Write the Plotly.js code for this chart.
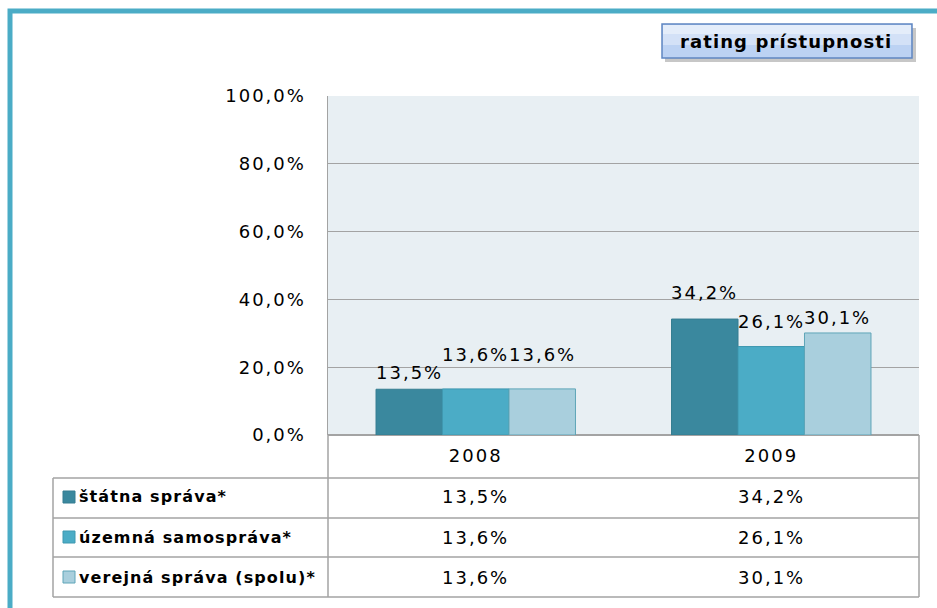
<!DOCTYPE html>
<html><head><meta charset="utf-8">
<script src="https://cdn.plot.ly/plotly-3.0.1.min.js"></script>
<style>
html,body{margin:0;padding:0;background:#fff}
svg text{letter-spacing:2px}
svg text[style*="font-weight: bold"], svg text[style*="font-weight: 700"]{letter-spacing:1.1px}
</style>
</head><body><div id="chart" style="width:937px;height:608px"></div>
<script>
// ---- data ----
const years = ['2008', '2009'];
const seriesNames = ['štátna správa*', 'územná samospráva*', 'verejná správa (spolu)*'];
const statnaSprava = [13.5, 34.2];
const uzemnaSamosprava = [13.6, 26.1];
const verejnaSprava = [13.6, 30.1];
const yTickValues = [0, 20, 40, 60, 80, 100];
const chartTitle = 'rating prístupnosti';

// ---- styling ----
const seriesValues = [statnaSprava, uzemnaSamosprava, verejnaSprava];
const colors = ['#3a889e', '#4bacc6', '#a9cfdd'];
const outlines = ['#357d91', '#3f98b0', '#5fa5b8'];
const labelShift = [[17, 34, 34], [27, 25, 15]];
const FONT = 'DejaVu Sans, sans-serif';
const fmt = v => v.toFixed(1).replace('.', ',') + '%';
const bargap = 0.325;
const xPos = years.map((_, j) => j);
const GRID = '#a3a3a3';

// pixel -> paper helpers (plot area 328..919 x 96..435)
const L = 328, R = 919, T = 96, B = 435, W = R - L, H = B - T;
const px = p => (p - L) / W;
const py = p => (B - p) / H;

const traces = seriesNames.map((n, i) => ({
  type: 'bar', name: n, x: xPos, y: seriesValues[i],
  marker: {color: colors[i], line: {color: outlines[i], width: 1}},
  hoverinfo: 'skip', showlegend: false
}));

const annotations = [];
const shapes = [];
const bw = (1 - bargap) / seriesNames.length;

// data labels above bars
seriesValues.forEach((vals, i) => {
  vals.forEach((v, j) => {
    annotations.push({
      x: xPos[j] + (i - 1) * bw, y: v, xref: 'x', yref: 'y',
      text: fmt(v), showarrow: false, xanchor: 'center', yanchor: 'middle',
      yshift: labelShift[j][i], font: {family: FONT, size: 18, color: '#000'}
    });
  });
});

// data table
const rowLines = [478, 518, 557, 597];
const rowCenters = [497, 537, 577];
rowLines.forEach(y => shapes.push({type: 'line', xref: 'paper', yref: 'paper',
  x0: px(53), x1: px(R), y0: py(y), y1: py(y), line: {color: GRID, width: 1.5}}));
[[53, 478], [L, B], [R, B]].forEach(([x, y0]) => shapes.push({type: 'line', xref: 'paper', yref: 'paper',
  x0: px(x), x1: px(x), y0: py(y0), y1: py(597), line: {color: GRID, width: 1.5}}));

seriesNames.forEach((n, i) => {
  const c = rowCenters[i];
  shapes.push({type: 'rect', xref: 'paper', yref: 'paper', x0: px(63), x1: px(75),
    y0: py(c + 6), y1: py(c - 6), fillcolor: colors[i], line: {color: outlines[i], width: 1}});
  annotations.push({x: px(77), y: py(c), xref: 'paper', yref: 'paper', text: n, showarrow: false,
    xanchor: 'left', yanchor: 'middle', font: {family: FONT, size: 16, color: '#000', weight: 'bold'}});
  seriesValues[i].forEach((v, j) => annotations.push({
    x: xPos[j], y: py(c), xref: 'x', yref: 'paper', text: fmt(v), showarrow: false,
    xanchor: 'center', yanchor: 'middle', font: {family: FONT, size: 18, color: '#000'}
  }));
});

// teal outer frame
shapes.push({type: 'rect', xref: 'paper', yref: 'paper', x0: px(10), x1: px(1200), y0: py(900), y1: py(11),
  line: {color: '#4bacc6', width: 5}, fillcolor: 'rgba(0,0,0,0)', layer: 'below'});

// title box with shadow
shapes.push({type: 'rect', xref: 'paper', yref: 'paper', x0: px(665), x1: px(916), y0: py(62), y1: py(28),
  fillcolor: 'rgba(0,0,0,0.22)', line: {width: 0}});
shapes.push({type: 'rect', xref: 'paper', yref: 'paper', x0: px(662), x1: px(912), y0: py(58), y1: py(24),
  fillcolor: '#bcd2f3', line: {color: '#5f86c2', width: 1.5}});
shapes.push({type: 'rect', xref: 'paper', yref: 'paper', x0: px(663), x1: px(911), y0: py(45), y1: py(25),
  fillcolor: '#d3e1f7', line: {width: 0}});
shapes.push({type: 'rect', xref: 'paper', yref: 'paper', x0: px(663), x1: px(911), y0: py(34), y1: py(25),
  fillcolor: '#e4edfa', line: {width: 0}});
annotations.push({x: px(786), y: py(41), xref: 'paper', yref: 'paper', text: chartTitle, showarrow: false,
  xanchor: 'center', yanchor: 'middle', font: {family: FONT, size: 18, color: '#000', weight: 'bold'}});

const layout = {
  width: 937, height: 608,
  margin: {l: L, r: 937 - R, t: T, b: 608 - B},
  paper_bgcolor: '#ffffff', plot_bgcolor: '#e8eff3',
  barmode: 'group', bargap: bargap, bargroupgap: 0,
  font: {family: FONT, size: 18, color: '#000'},
  xaxis: {type: 'linear', range: [-0.5, 1.5], tickmode: 'array', tickvals: xPos, ticktext: years,
    showgrid: false, showline: false, zeroline: false, ticks: '',
    ticklabelstandoff: 8, tickfont: {family: FONT, size: 18, color: '#000'}, fixedrange: true},
  yaxis: {range: [0, 100], tickmode: 'array', tickvals: yTickValues, ticktext: yTickValues.map(fmt),
    showgrid: true, gridcolor: GRID, gridwidth: 1, zeroline: true, zerolinecolor: GRID, zerolinewidth: 1.5,
    showline: true, linecolor: GRID, linewidth: 1.5, ticks: '', ticklabelstandoff: 17,
    tickfont: {family: FONT, size: 18, color: '#000'}, fixedrange: true},
  annotations: annotations, shapes: shapes
};

Plotly.newPlot('chart', traces, layout, {displayModeBar: false, staticPlot: true});
</script></body></html>
